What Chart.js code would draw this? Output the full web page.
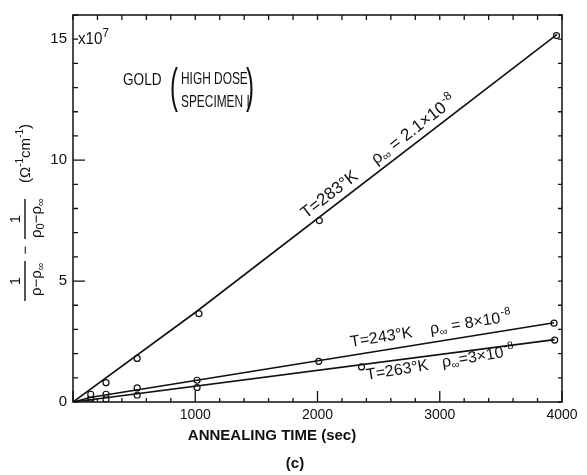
<!DOCTYPE html>
<html>
<head>
<meta charset="utf-8">
<script src="https://cdn.jsdelivr.net/npm/chart.js@4.4.1/dist/chart.umd.min.js"></script>
<style>
  html, body { margin: 0; padding: 0; background: #fff; }
  canvas { display: block; }
</style>
</head>
<body>
<canvas id="myChart" width="587" height="475"></canvas>
<script>
// annealing time (sec) vs 1/(rho-rho_inf) - 1/(rho0-rho_inf), in units of 1e7
const times283 = [145, 270, 525, 1030, 2015, 3955];
const vals283 = [0.32, 0.8, 1.8, 3.65, 7.5, 15.15];
const times243 = [145, 270, 525, 1015, 2010, 3935];
const vals243 = [0.15, 0.32, 0.58, 0.9, 1.68, 3.26];
const times263 = [145, 270, 525, 1015, 2360, 3940];
const vals263 = [0.02, 0.11, 0.28, 0.6, 1.45, 2.56];

// hand-drawn straight lines through each set
const fitTimes283 = [0, 1000, 3960];
const fitVals283 = [0, 3.7, 15.2];
const fitTimes243 = [0, 150, 3935];
const fitVals243 = [0, 0.2, 3.28];
const fitTimes263 = [0, 3940];
const fitVals263 = [0, 2.58];

const xTickLabels = ["1000", "2000", "3000", "4000"];
const yTickLabels = ["0", "5", "10", "15"];

const SANS = '"Liberation Sans", Arial, sans-serif';
const INK = "#111";

function pts(xs, ys) {
  return xs.map((x, i) => ({ x: x, y: ys[i] }));
}

function points(xs, ys) {
  return {
    data: pts(xs, ys),
    showLine: false,
    pointRadius: 3,
    pointBorderWidth: 1.2,
    pointBorderColor: INK,
    pointBackgroundColor: "#fff",
  };
}

function fit(xs, ys) {
  return {
    data: pts(xs, ys),
    showLine: true,
    borderColor: INK,
    borderWidth: 1.6,
    pointRadius: 0,
  };
}

// text pieces drawn one after another along a (possibly rotated) baseline,
// squeezed horizontally by sx to get the narrow lettering
function drawRun(ctx, x, y, angle, parts, sx) {
  ctx.save();
  ctx.textAlign = "left";
  ctx.translate(x, y);
  ctx.rotate(angle);
  ctx.scale(sx || 1, 1);
  let cx = 0;
  parts.forEach(p => {
    ctx.font = p.font;
    ctx.fillText(p.t, cx, p.dy || 0);
    cx += ctx.measureText(p.t).width + (p.gap || 0);
  });
  ctx.restore();
}

function lineLabel(ctx, x, y, angle, size, gap, temp, rho) {
  const big = size + "px " + SANS, small = Math.round(size * 0.68) + "px " + SANS;
  drawRun(ctx, x, y, angle, [
    { t: "T=" + temp + "°K", font: big, gap: gap },
    { t: "ρ", font: big },
    { t: "∞", font: small, dy: 3 },
    { t: rho + "×10", font: big, gap: 1 },
    { t: "-8", font: small, dy: -7 },
  ]);
}

const frameAndNotes = {
  id: "frameAndNotes",
  afterDraw(chart) {
    const ctx = chart.ctx;
    const a = chart.chartArea;
    const xs = chart.scales.x, ys = chart.scales.y;
    ctx.save();
    ctx.strokeStyle = INK;
    ctx.fillStyle = INK;
    ctx.lineWidth = 1.5;
    ctx.strokeRect(a.left, a.top, a.right - a.left, a.bottom - a.top);

    // inward ticks on all four sides
    ctx.lineWidth = 1.3;
    ctx.beginPath();
    xs.ticks.forEach(t => {
      const px = xs.getPixelForValue(t.value);
      const major = t.value % 1000 === 0;
      ctx.moveTo(px, a.bottom); ctx.lineTo(px, a.bottom - (major ? 11 : 4));
      ctx.moveTo(px, a.top); ctx.lineTo(px, a.top + 5);
    });
    ys.ticks.forEach(t => {
      const py = ys.getPixelForValue(t.value);
      const major = t.value === 5 || t.value === 10;
      ctx.moveTo(a.left, py); ctx.lineTo(a.left + (major ? 12 : 5), py);
      ctx.moveTo(a.right, py); ctx.lineTo(a.right - 4, py);
    });
    ctx.stroke();

    // exponent next to the top y label
    const y15 = ys.getPixelForValue(15);
    drawRun(ctx, a.left + 5, y15 + 5, 0, [
      { t: "x10", font: "16px " + SANS },
      { t: "7", font: "12px " + SANS, dy: -7 },
    ], 0.95);

    // sample note
    ctx.textBaseline = "middle";
    drawRun(ctx, 123, 80, 0, [{ t: "GOLD", font: "17px " + SANS }], 0.8);
    drawRun(ctx, 181, 79, 0, [{ t: "HIGH DOSE", font: "17px " + SANS }], 0.7);
    drawRun(ctx, 181, 102, 0, [{ t: "SPECIMEN I", font: "17px " + SANS }], 0.7);
    drawRun(ctx, 170, 89, 0, [{ t: "(", font: "48px " + SANS }], 0.5);
    drawRun(ctx, 246, 89, 0, [{ t: ")", font: "48px " + SANS }], 0.5);
    ctx.textBaseline = "alphabetic";

    // labels along the lines
    lineLabel(ctx, 306, 219, -0.658, 17, 22, "283", " = 2.1");
    lineLabel(ctx, 351, 347, -0.16, 16, 18, "243", " = 8");
    lineLabel(ctx, 367, 380, -0.165, 16, 14, "263", "=3");

    // x axis title and panel letter
    ctx.textAlign = "center";
    ctx.font = "bold 15px " + SANS;
    ctx.fillText("ANNEALING TIME (sec)", 272, 440);
    ctx.fillText("(c)", 295, 468);

    // y axis title, written bottom to top
    ctx.save();
    ctx.translate(25, 0);
    ctx.rotate(-Math.PI / 2);
    ctx.font = "15px " + SANS;
    ctx.textAlign = "center";
    // lower fraction, centred at y = 281
    ctx.fillText("1", -281, -5);
    ctx.fillRect(-301, -0.7, 40, 1.4);
    drawRun(ctx, -296, 16, 0, [
      { t: "ρ−ρ", font: "15px " + SANS },
      { t: "∞", font: "11px " + SANS, dy: 3 },
    ]);
    // minus between the fractions
    ctx.textAlign = "center";
    ctx.font = "15px " + SANS;
    ctx.fillText("−", -250, 5);
    // upper fraction, centred at y = 219
    ctx.fillText("1", -219, -5);
    ctx.fillRect(-239, -0.7, 40, 1.4);
    drawRun(ctx, -238, 16, 0, [
      { t: "ρ", font: "15px " + SANS },
      { t: "0", font: "11px " + SANS, dy: 3 },
      { t: "−ρ", font: "15px " + SANS },
      { t: "∞", font: "11px " + SANS, dy: 3 },
    ]);
    // units
    drawRun(ctx, -183, 5, 0, [
      { t: "(Ω", font: "15px " + SANS },
      { t: "-1", font: "10px " + SANS, dy: -7 },
      { t: "cm", font: "15px " + SANS },
      { t: "-1", font: "10px " + SANS, dy: -7 },
      { t: ")", font: "15px " + SANS },
    ]);
    ctx.restore();
    ctx.restore();
  },
};

const config = {
  type: "scatter",
  data: {
    datasets: [
      fit(fitTimes283, fitVals283),
      fit(fitTimes243, fitVals243),
      fit(fitTimes263, fitVals263),
      points(times283, vals283),
      points(times243, vals243),
      points(times263, vals263),
    ],
  },
  options: {
    responsive: false,
    animation: false,
    devicePixelRatio: 1,
    layout: { padding: { top: 10, right: 25, left: 0, bottom: 0 } },
    plugins: { legend: { display: false }, tooltip: { enabled: false } },
    scales: {
      x: {
        type: "linear",
        min: 0,
        max: 4000,
        grid: { display: false, drawTicks: false },
        border: { display: false },
        afterFit(scale) { scale.height = 73; },
        ticks: {
          stepSize: 200,
          autoSkip: false,
          maxRotation: 0,
          padding: 5,
          color: INK,
          font: { family: SANS, size: 14 },
          callback: v => (xTickLabels.includes(String(v)) ? String(v) : ""),
        },
      },
      y: {
        type: "linear",
        min: 0,
        max: 16,
        grid: { display: false, drawTicks: false },
        border: { display: false },
        afterFit(scale) { scale.width = 73; },
        ticks: {
          stepSize: 1,
          autoSkip: false,
          padding: 6,
          color: INK,
          font: { family: SANS, size: 15 },
          callback: v => (yTickLabels.includes(String(v)) ? String(v) : ""),
        },
      },
    },
  },
  plugins: [frameAndNotes],
};

const myChart = new Chart(document.getElementById("myChart"), config);
</script>
</body>
</html>
